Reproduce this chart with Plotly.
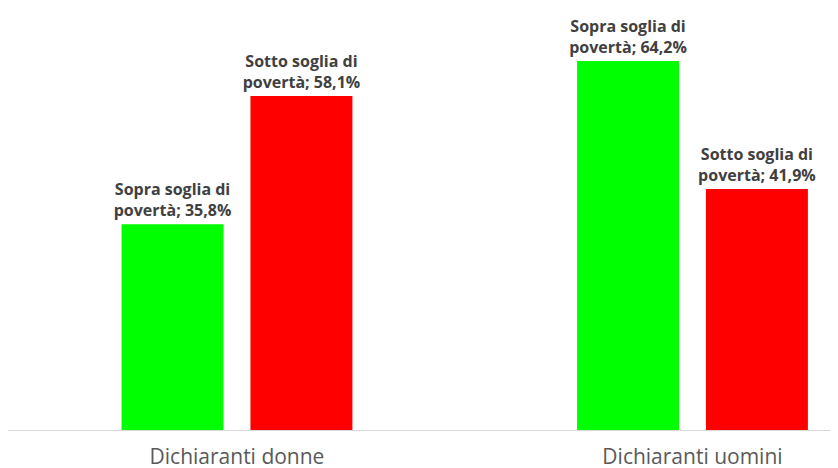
import plotly.graph_objects as go

categories = ["Dichiaranti donne", "Dichiaranti uomini"]
sopra_values = [35.8, 64.2]
sotto_values = [58.1, 41.9]
sopra_name = "Sopra soglia di<br>povertà"
sotto_name = "Sotto soglia di<br>povertà"

def fmt(v):
    return f"{v:.1f}".replace(".", ",") + "%"

label_font = dict(family="Open Sans", size=16, color="#404040", weight="bold")

fig = go.Figure()
fig.add_trace(go.Bar(
    x=categories, y=sopra_values, name="Sopra",
    marker=dict(color="#00FF00", line=dict(width=0)),
    text=[f"{sopra_name}; {fmt(v)}" for v in sopra_values],
    textposition="outside", cliponaxis=False, textfont=label_font,
    constraintext="none",
))
fig.add_trace(go.Bar(
    x=categories, y=sotto_values, name="Sotto",
    marker=dict(color="#FF0000", line=dict(width=0)),
    text=[f"{sotto_name}; {fmt(v)}" for v in sotto_values],
    textposition="outside", cliponaxis=False, textfont=label_font,
    constraintext="none",
))

fig.update_layout(
    width=830, height=460,
    margin=dict(l=0, r=0, t=0, b=38),
    paper_bgcolor="white", plot_bgcolor="white",
    barmode="group", bargap=0.434, bargroupgap=0.209,
    showlegend=False,
    xaxis=dict(
        range=[-0.5027, 1.3195], showgrid=False, zeroline=False,
        showline=True, linecolor="#D9D9D9", linewidth=1,
        ticks="", ticklabelstandoff=8, automargin=False,
        tickfont=dict(family="Open Sans", size=21, color="#595959"),
    ),
    yaxis=dict(range=[0, 73.4], visible=False, automargin=False),
)

fig.write_html("out.html")
